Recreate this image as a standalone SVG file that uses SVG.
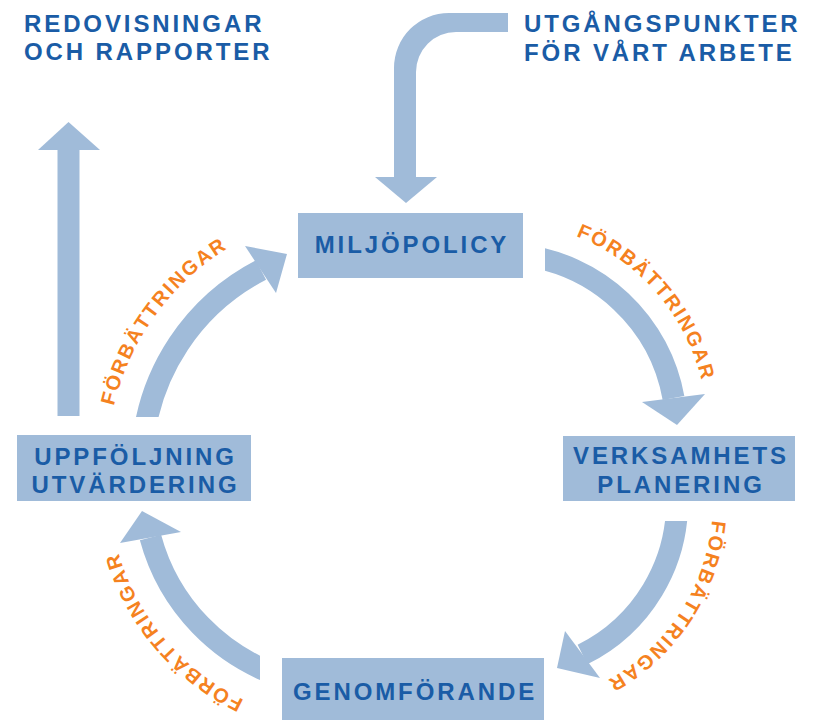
<svg xmlns="http://www.w3.org/2000/svg" width="820" height="720" viewBox="0 0 820 720">
<style>
.box{fill:#a0bbd9}
.arrow{fill:#a0bbd9}
.shaft{fill:none;stroke:#a0bbd9;stroke-width:22}
.t{font-family:"Liberation Sans",Arial,sans-serif;font-weight:bold;font-size:24px;letter-spacing:2.9px;fill:#1a5ca6}
.c{text-anchor:middle}
.lbl{font-family:"Liberation Sans",Arial,sans-serif;font-weight:bold;font-size:20px;letter-spacing:2px;fill:#f5821f}
</style>
<defs>
<clipPath id="cLT"><rect x="0" y="0" width="820" height="417"/></clipPath>
<clipPath id="cRT"><rect x="545" y="0" width="275" height="720"/></clipPath>
<clipPath id="cRB"><rect x="0" y="521" width="820" height="199"/></clipPath>
<clipPath id="cLB"><rect x="0" y="0" width="260" height="720"/></clipPath>
<path id="pLT" d="M107.7,483.2 A255,255 0 0 1 299.9,217.7"/>
<path id="pRT" d="M533.9,224.6 A206,206 0 0 1 707,425.1"/>
<path id="pRB" d="M711.6,477.4 A205,205 0 0 1 566.6,697.5"/>
<path id="pLB" d="M305.9,719.6 A237,237 0 0 1 109,487"/>
</defs>
<rect width="820" height="720" fill="#ffffff"/>

<g id="connectors">
  <g id="arrow-utgangspunkter">
    <path class="arrow" d="M508,13 H449 A55,55 0 0 0 394,68 V178 H416 V72 A40,40 0 0 1 456,32 H508 Z"/>
    <polygon class="arrow" points="375,177 406,203 437,177"/>
  </g>
  <g id="arrow-redovisningar">
    <rect class="arrow" x="57.5" y="149" width="22" height="267"/>
    <polygon class="arrow" points="38,150 68.5,122 100,150"/>
  </g>
  <g id="arrow-miljo-verksamhet">
    <path class="shaft" clip-path="url(#cRT)" d="M521.3,255.2 A175,175 0 0 1 673.5,398"/>
    <polygon class="arrow" points="642,402 677,425 705,394"/>
    <text class="lbl"><textPath href="#pRT" startOffset="50%" text-anchor="middle">FÖRBÄTTRINGAR</textPath></text>
  </g>
  <g id="arrow-verksamhet-genomforande">
    <path class="shaft" clip-path="url(#cRB)" d="M677,497.5 A170,170 0 0 1 582.5,654.5"/>
    <polygon class="arrow" points="565,631 557,668 600,678"/>
    <text class="lbl"><textPath href="#pRB" startOffset="50%" text-anchor="middle">FÖRBÄTTRINGAR</textPath></text>
  </g>
  <g id="arrow-genomforande-uppfoljning">
    <path class="shaft" clip-path="url(#cLB)" d="M286.2,677.9 A202,202 0 0 1 150.5,537.5"/>
    <polygon class="arrow" points="120,543 142,511 181,532"/>
    <text class="lbl"><textPath href="#pLB" startOffset="50%" text-anchor="middle">FÖRBÄTTRINGAR</textPath></text>
  </g>
  <g id="arrow-uppfoljning-miljo">
    <path class="shaft" clip-path="url(#cLT)" d="M142.6,448.5 A220,220 0 0 1 261,270"/>
    <polygon class="arrow" points="245,246 287,254 276,293"/>
    <text class="lbl"><textPath href="#pLT" startOffset="50%" text-anchor="middle">FÖRBÄTTRINGAR</textPath></text>
  </g>
</g>

<g id="redovisningar">
  <text class="t" x="24" y="32">REDOVISNINGAR</text>
  <text class="t" x="24" y="60">OCH RAPPORTER</text>
</g>
<g id="utgangspunkter">
  <text class="t" x="524" y="32">UTGÅNGSPUNKTER</text>
  <text class="t" x="524" y="61">FÖR VÅRT ARBETE</text>
</g>
<g id="miljopolicy">
  <rect class="box" x="298" y="213" width="225" height="65"/>
  <text class="t c" x="412" y="253">MILJÖPOLICY</text>
</g>
<g id="verksamhetsplanering">
  <rect class="box" x="563" y="436" width="232" height="65"/>
  <text class="t c" x="681" y="464">VERKSAMHETS</text>
  <text class="t c" x="681" y="493">PLANERING</text>
</g>
<g id="genomforande">
  <rect class="box" x="282" y="658" width="262" height="66"/>
  <text class="t c" x="415" y="700">GENOMFÖRANDE</text>
</g>
<g id="uppfoljning">
  <rect class="box" x="17" y="435" width="234" height="66"/>
  <text class="t c" x="135.5" y="465">UPPFÖLJNING</text>
  <text class="t c" x="135.5" y="493">UTVÄRDERING</text>
</g>
</svg>
